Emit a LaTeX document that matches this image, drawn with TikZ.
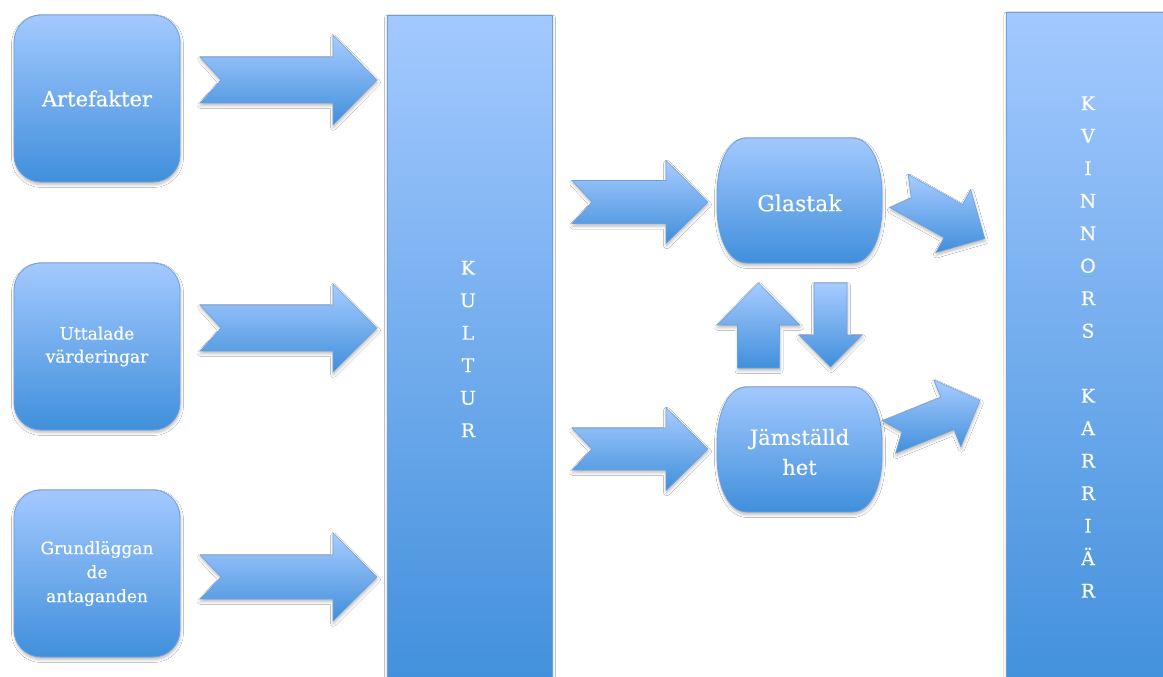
\documentclass[tikz,border=0pt]{standalone}
\usepackage{fontspec}
\setmainfont{DejaVu Serif}[FakeBold=0.35]
\usetikzlibrary{shadows.blur}
\definecolor{btop}{RGB}{163,201,255}
\definecolor{bbot}{RGB}{64,143,219}
\definecolor{bedge}{RGB}{112,160,218}
\tikzset{
  shadowed/.style={blur shadow={shadow xshift=0.5pt, shadow yshift=-2.5pt, shadow blur radius=3pt, shadow opacity=28}},
  boxfill/.style={top color=btop, bottom color=bbot, draw=bedge, line width=0.8pt, shadowed},
  arrowfill/.style={top color=btop!95!white, bottom color=bbot, draw=bedge, line width=0.6pt, shadowed},
  roundbox/.style={boxfill, rounded corners=27pt, minimum width=166pt, minimum height=167pt,
    inner sep=0pt, align=center, text=white},
  barbox/.style={boxfill, minimum width=165pt, inner sep=0pt},
  bartext/.style={text=white, align=center, font=\fontsize{19}{32.5}\selectfont, inner sep=0pt},
  boxtext/.style={text=white, align=center, inner sep=0pt},
}
\newcommand\blockarrow[8]{% x y angle L w h hl n
  \path[arrowfill, shift={(#1,#2)}, rotate=#3]
    (0,-#5) -- (#4-#7,-#5) -- (#4-#7,-#6) -- (#4,0) -- (#4-#7,#6) -- (#4-#7,#5)
    -- (0,#5) -- (#8,0) -- cycle;
}
\newcommand\sidebox[4]{% x0 y0 x1 y1
  \path[boxfill] (#1+30,#2) -- (#3-30,#2) .. controls (#3-10,#2) and (#3,#2+28) .. (#3,#2+56)
    -- (#3,#4-56) .. controls (#3,#4-28) and (#3-10,#4) .. (#3-30,#4)
    -- (#1+30,#4) .. controls (#1+10,#4) and (#1,#4-28) .. (#1,#4-56)
    -- (#1,#2+56) .. controls (#1,#2+28) and (#1+10,#2) .. (#1+30,#2) -- cycle;
}
\begin{document}
\begin{tikzpicture}[x=1pt,y=-1pt]
\useasboundingbox (0,0) rectangle (1163,677);
\fill[white] (0,0) rectangle (1163,677);
\clip (0,0) rectangle (1163,677);

% left boxes
\node[roundbox, font=\fontsize{21}{25}\selectfont] (artefakter) at (97,98.5) {Artefakter};
\node[roundbox, font=\fontsize{17}{23}\selectfont] (uttalade) at (97,346.5) {Uttalade\\värderingar};
\node[roundbox, font=\fontsize{17}{24}\selectfont] (grund) at (97,573.5) {Grundläggan\\de\\antaganden};

% bars
\node[barbox, minimum height=680pt, anchor=north] (kultur) at (469.5,15) {};
\node[bartext] (kulturtext) at (468,349) {K\\U\\L\\T\\U\\R};
\node[barbox, minimum width=175pt, minimum height=690pt, anchor=north west] (kvinnor) at (1006,12) {};
\node[bartext] (kvinnortext) at (1088,347) {K\\V\\I\\N\\N\\O\\R\\S\\[32.5pt]K\\A\\R\\R\\I\\Ä\\R};

% left arrows
\blockarrow{200}{80}{0}{177}{23}{45}{44}{21}
\blockarrow{200}{328}{0}{177}{23}{44}{44}{21}
\blockarrow{200}{577}{0}{177}{22}{44}{44}{21}

% middle boxes
\sidebox{717}{138}{882}{263}
\node[boxtext, font=\fontsize{22}{26}\selectfont] (glastak) at (799.5,203) {Glastak};
\sidebox{717}{387}{882}{512}
\node[boxtext, font=\fontsize{21}{30}\selectfont] (jam) at (799.5,452) {Jämställd\\het};

% middle arrows
\blockarrow{572}{202}{0}{136}{21.5}{41.5}{42}{20}
\blockarrow{572}{449}{0}{136}{21}{41.5}{42}{20}

% up / down arrows
\blockarrow{758.5}{368}{90}{85}{21}{41.5}{42}{0}
\blockarrow{830.5}{283}{-90}{84}{16.5}{31.5}{32}{0}

% diagonal arrows
\blockarrow{899}{191}{-29}{98}{19}{36}{36}{14}
\blockarrow{889}{437}{22}{98}{17.5}{36}{35}{14}
\end{tikzpicture}
\end{document}
